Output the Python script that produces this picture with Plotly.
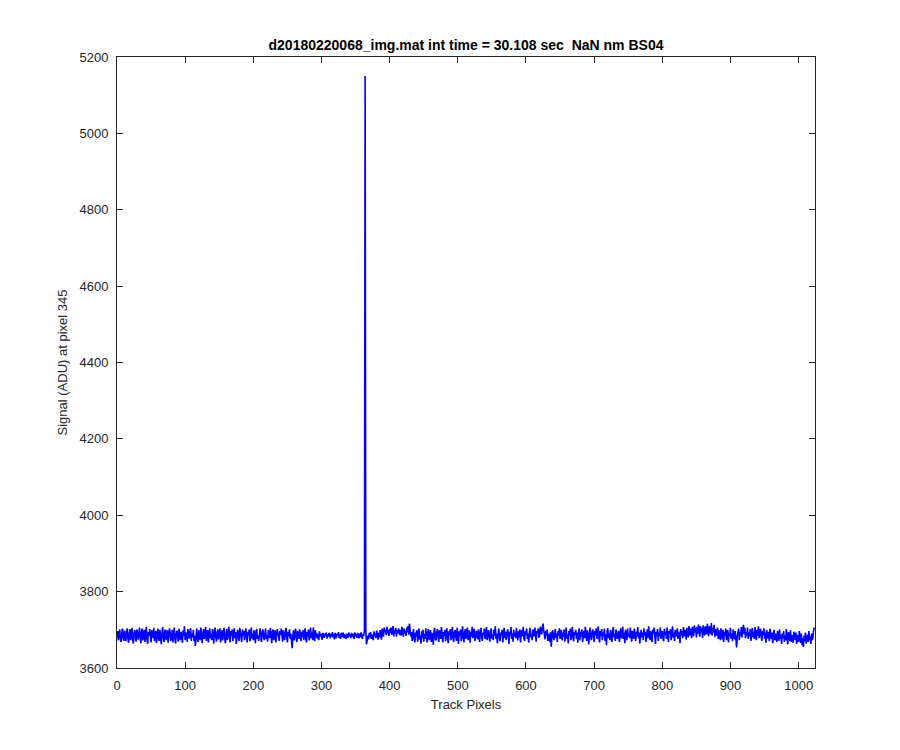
import numpy as np
import plotly.graph_objects as go

title_text = "d20180220068_img.mat int time = 30.108 sec&nbsp;&nbsp;NaN nm BS04"
x_label = "Track Pixels"
y_label = "Signal (ADU) at pixel 345"
x_ticks = [0, 100, 200, 300, 400, 500, 600, 700, 800, 900, 1000]
y_ticks = [3600, 3800, 4000, 4200, 4400, 4600, 4800, 5000, 5200]

signal = [
    3680,3697,3672,3689,3701,3676,3668,3692,3703,3679,3671,3698,3686,3670,3694,3704,
    3677,3666,3691,3702,3673,3685,3705,3675,3664,3690,3699,3683,3669,3701,3693,3674,
    3686,3706,3678,3665,3695,3703,3672,3684,3700,3668,3689,3708,3676,3663,3694,3685,
    3702,3674,3667,3699,3690,3678,3705,3670,3686,3697,3665,3692,3703,3677,3671,3700,
    3684,3662,3690,3707,3680,3668,3696,3701,3673,3688,3699,3666,3679,3704,3692,3671,
    3682,3700,3667,3694,3706,3676,3664,3690,3698,3680,3669,3703,3687,3673,3695,3678,
    3666,3699,3685,3709,3673,3683,3693,3668,3702,3687,3677,3697,3704,3671,3690,3680,
    3700,3670,3685,3658,3694,3703,3678,3668,3699,3689,3673,3706,3682,3665,3692,3702,
    3676,3687,3707,3671,3683,3699,3667,3694,3704,3678,3690,3673,3702,3685,3664,3697,
    3706,3680,3669,3692,3701,3675,3687,3704,3667,3685,3699,3672,3694,3705,3678,3665,
    3690,3702,3673,3682,3708,3676,3667,3697,3685,3701,3670,3690,3704,3678,3694,3663,
    3687,3700,3681,3671,3705,3692,3676,3668,3701,3685,3697,3673,3690,3704,3680,3667,
    3695,3685,3701,3670,3682,3706,3677,3690,3673,3699,3687,3665,3695,3702,3676,3685,
    3671,3697,3704,3680,3668,3693,3701,3683,3673,3690,3703,3676,3685,3669,3699,3689,
    3678,3705,3682,3665,3695,3701,3673,3687,3699,3667,3685,3702,3693,3676,3671,3697,
    3687,3703,3678,3669,3699,3685,3673,3693,3705,3681,3667,3695,3683,3701,3676,3690,
    3666,3652,3685,3699,3672,3690,3703,3679,3668,3697,3685,3676,3701,3687,3670,3695,
    3681,3699,3673,3690,3704,3676,3667,3695,3683,3701,3672,3687,3706,3678,3693,3673,
    3706,3686,3670,3699,3680,3692,3677,3688,3673,3696,3683,3690,3679,3674,3692,3686,
    3679,3690,3684,3693,3677,3688,3682,3692,3685,3678,3690,3683,3694,3680,3688,3675,
    3692,3684,3678,3690,3685,3694,3679,3688,3676,3692,3685,3681,3693,3678,3688,3683,
    3676,3690,3685,3679,3693,3683,3688,3678,3692,3681,3690,3685,3676,3693,3683,3688,
    3679,3692,3685,3678,3690,3681,3693,3683,3676,3688,3685,3697,5150,3700,3662,3672,
    3685,3675,3692,3680,3694,3676,3688,3683,3673,3696,3685,3690,3678,3698,3687,3674,
    3692,3680,3699,3688,3674,3703,3693,3682,3706,3694,3700,3686,3708,3691,3699,3684,
    3703,3692,3706,3687,3697,3710,3683,3700,3691,3705,3682,3699,3690,3704,3694,3686,
    3700,3685,3708,3692,3682,3703,3690,3698,3684,3706,3694,3710,3687,3716,3699,3683,
    3694,3671,3686,3702,3676,3667,3693,3682,3699,3669,3688,3703,3674,3685,3664,3696,
    3679,3700,3669,3689,3676,3704,3683,3667,3694,3702,3673,3687,3699,3668,3692,3682,
    3661,3696,3705,3677,3672,3692,3702,3684,3668,3699,3687,3676,3707,3680,3667,3694,
    3684,3700,3670,3689,3704,3676,3665,3696,3687,3702,3673,3682,3708,3678,3668,3694,
    3699,3682,3671,3705,3689,3663,3696,3685,3701,3670,3687,3709,3679,3667,3694,3702,
    3676,3689,3706,3673,3685,3699,3666,3694,3683,3708,3678,3690,3703,3671,3687,3697,
    3682,3675,3701,3689,3668,3697,3705,3680,3671,3693,3687,3703,3676,3685,3707,3673,
    3690,3699,3680,3669,3694,3704,3677,3688,3673,3701,3684,3709,3676,3690,3665,3697,
    3703,3683,3670,3693,3685,3700,3667,3688,3705,3678,3695,3673,3685,3701,3690,3663,
    3695,3685,3707,3676,3690,3669,3700,3682,3693,3678,3705,3687,3672,3696,3680,3701,
    3667,3690,3700,3683,3708,3677,3671,3697,3687,3703,3676,3690,3666,3694,3705,3680,
    3688,3673,3701,3693,3683,3706,3676,3669,3697,3690,3704,3679,3685,3708,3700,3688,
    3705,3716,3700,3688,3675,3697,3685,3701,3671,3690,3682,3668,3694,3656,3680,3699,
    3685,3673,3692,3702,3678,3690,3668,3697,3685,3704,3676,3688,3700,3672,3693,3683,
    3701,3669,3690,3706,3677,3688,3664,3697,3685,3703,3673,3690,3707,3680,3670,3695,
    3687,3700,3676,3693,3666,3685,3704,3673,3695,3683,3701,3668,3690,3697,3678,3708,
    3685,3671,3699,3690,3662,3695,3706,3680,3673,3693,3701,3683,3668,3697,3687,3704,
    3676,3690,3709,3680,3667,3697,3685,3702,3673,3693,3683,3703,3671,3688,3660,3695,
    3704,3678,3690,3673,3700,3685,3668,3695,3707,3680,3688,3671,3701,3693,3676,3685,
    3697,3668,3690,3704,3678,3685,3708,3676,3693,3665,3700,3687,3673,3703,3683,3690,
    3678,3706,3690,3669,3697,3685,3676,3703,3687,3671,3695,3683,3707,3678,3693,3664,
    3687,3700,3680,3693,3673,3704,3685,3695,3668,3690,3701,3678,3709,3687,3673,3697,
    3683,3668,3700,3690,3706,3676,3663,3695,3685,3702,3671,3693,3683,3706,3676,3690,
    3697,3678,3670,3703,3687,3695,3676,3706,3683,3668,3697,3690,3702,3673,3685,3709,
    3680,3693,3671,3700,3687,3683,3704,3676,3695,3690,3665,3702,3685,3697,3678,3707,
    3692,3683,3700,3674,3705,3690,3680,3710,3695,3685,3703,3678,3708,3693,3683,3712,
    3693,3705,3680,3708,3690,3714,3699,3682,3710,3693,3705,3679,3712,3696,3685,3709,
    3700,3688,3716,3697,3683,3710,3700,3689,3718,3685,3706,3693,3713,3681,3702,3690,
    3685,3706,3676,3699,3690,3673,3704,3687,3675,3700,3668,3694,3685,3703,3673,3690,
    3700,3667,3693,3683,3705,3676,3690,3670,3701,3685,3675,3697,3665,3654,3683,3690,
    3703,3673,3695,3685,3707,3680,3699,3713,3690,3705,3678,3695,3685,3706,3676,3693,
    3683,3702,3671,3690,3705,3680,3695,3676,3707,3687,3673,3700,3685,3709,3678,3693,
    3703,3683,3671,3697,3687,3704,3676,3693,3666,3700,3685,3677,3695,3670,3703,3687,
    3676,3693,3665,3685,3700,3673,3690,3680,3668,3697,3683,3671,3701,3676,3687,3663,
    3690,3678,3697,3668,3685,3673,3702,3680,3662,3694,3683,3671,3699,3668,3687,3676,
    3666,3695,3683,3673,3693,3663,3687,3676,3668,3697,3680,3666,3690,3660,3678,3655,
    3685,3670,3693,3664,3678,3687,3668,3697,3673,3683,3663,3690,3673,3680,3699,3706,
]
pixels = list(range(len(signal)))

font_family = "Liberation Sans, Arial, sans-serif"
axis_color = "#262626"

fig = go.Figure()
fig.add_trace(go.Scatter(
    x=pixels, y=signal, mode="lines",
    line=dict(color="#0000FF", width=1.6),
    showlegend=False, hoverinfo="skip",
))

axis_common = dict(
    showgrid=False, zeroline=False, showline=True, linecolor=axis_color,
    linewidth=1, mirror="ticks", ticks="inside", ticklen=6, tickwidth=1,
    tickcolor=axis_color, tickfont=dict(family=font_family, size=13, color=axis_color),
    ticklabelstandoff=5,
)

fig.update_layout(
    width=900, height=750,
    margin=dict(l=109, r=93, t=49, b=90, autoexpand=False),
    paper_bgcolor="white", plot_bgcolor="white",
    font=dict(family=font_family, size=13, color=axis_color),
    title=dict(text="<b>" + title_text + "</b>", x=458 / 900, xanchor="center",
               y=1 - 37 / 750, yanchor="middle",
               font=dict(family=font_family, size=14, color="black")),
    xaxis=dict(range=[0, 1024], tickvals=x_ticks, ticktext=[str(v) for v in x_ticks],
               title=dict(text=x_label, standoff=8, font=dict(family=font_family, size=13, color=axis_color)),
               **axis_common),
    yaxis=dict(range=[3600, 5200], tickvals=y_ticks, ticktext=[str(v) for v in y_ticks],
               title=dict(text=y_label, standoff=8, font=dict(family=font_family, size=13, color=axis_color)),
               **axis_common),
)

fig.write_html("out.html")
